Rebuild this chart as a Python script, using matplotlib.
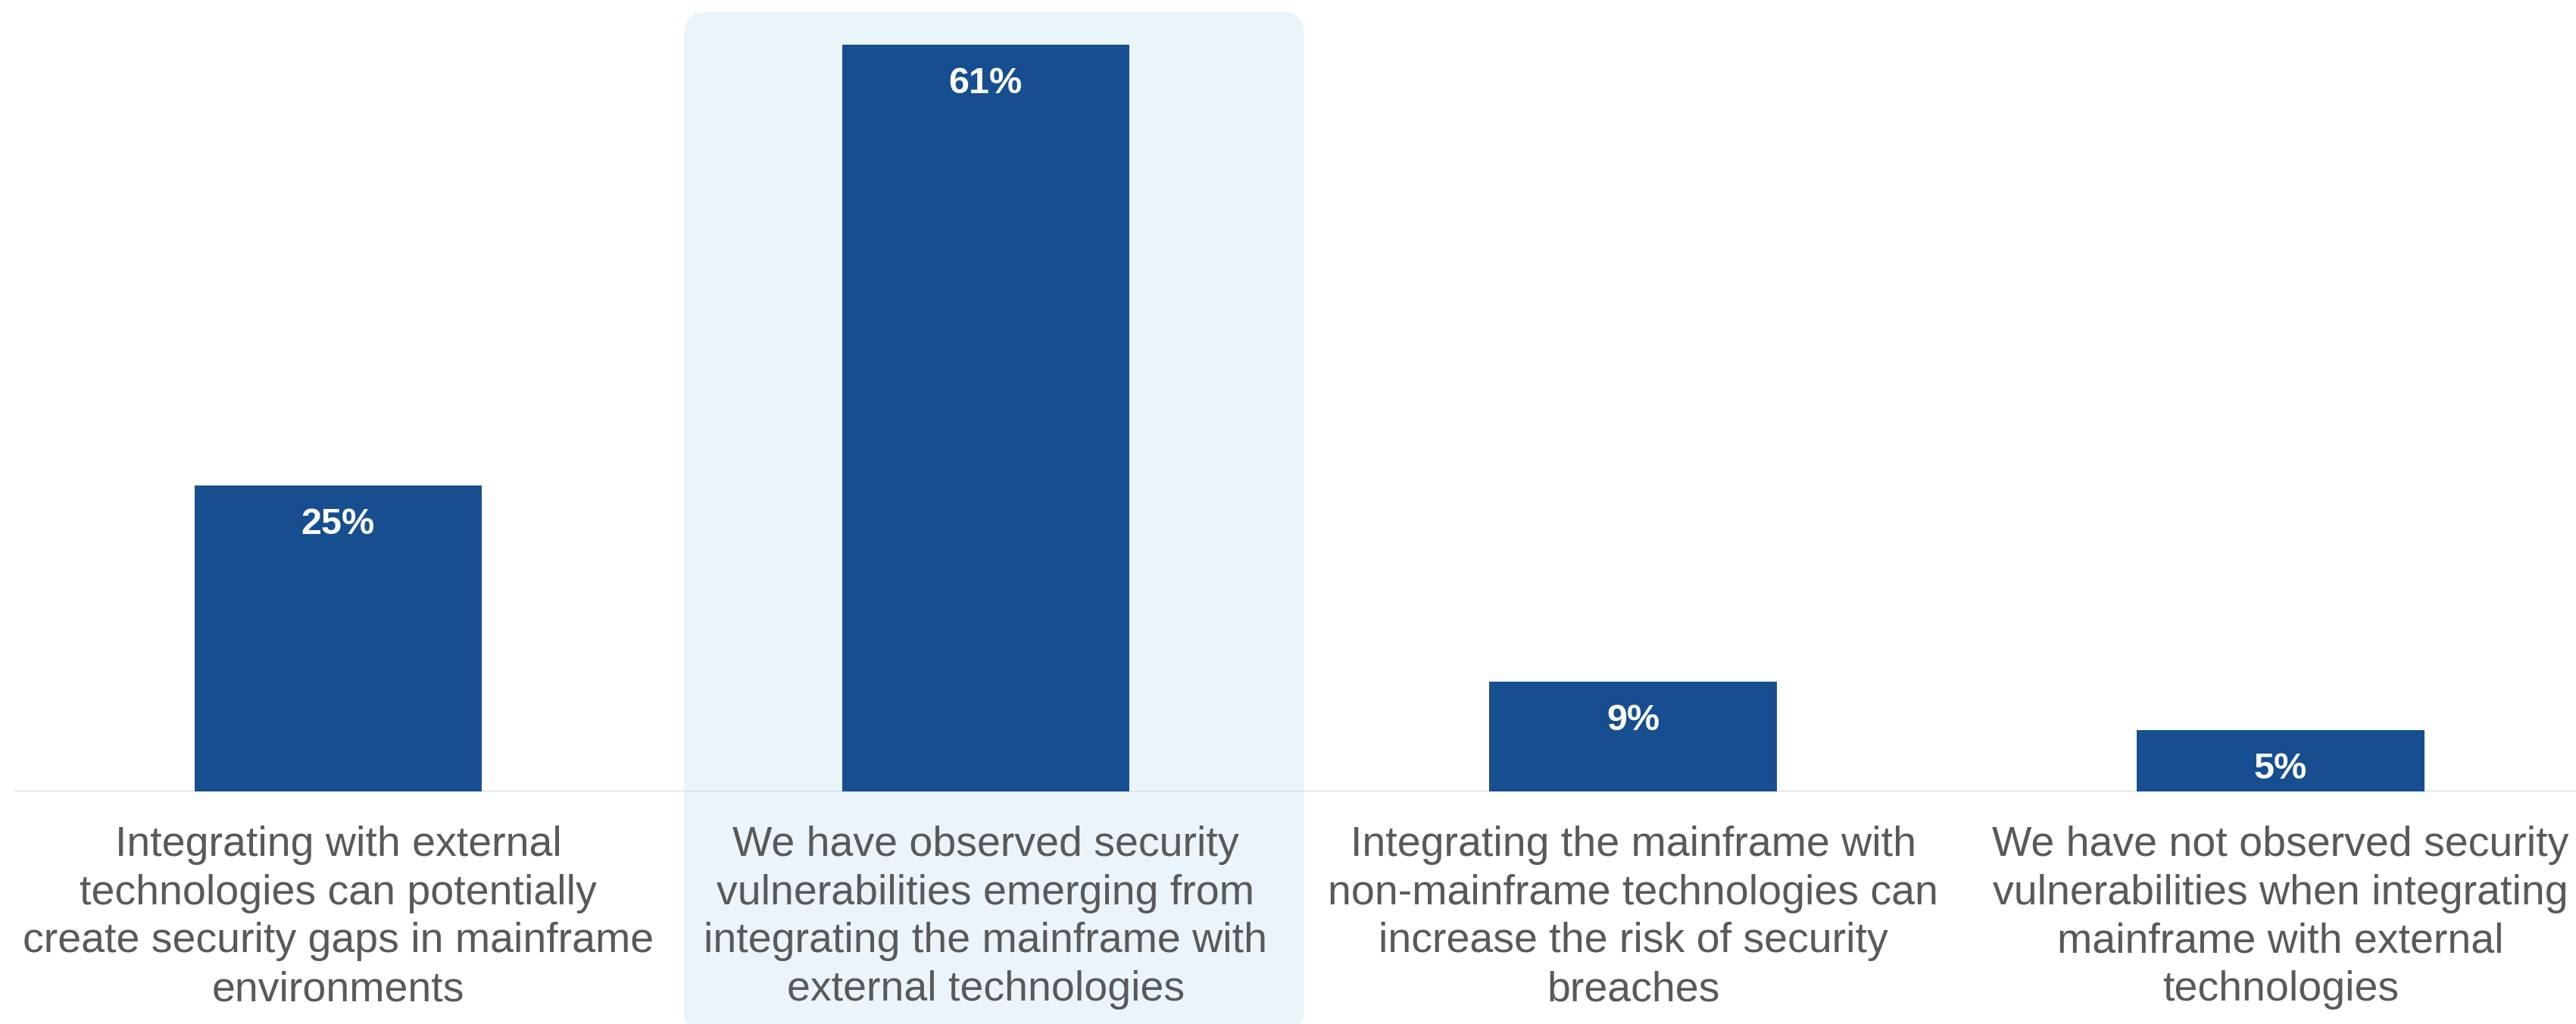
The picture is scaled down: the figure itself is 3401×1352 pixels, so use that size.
import matplotlib
matplotlib.use("Agg")
import matplotlib.pyplot as plt
from matplotlib.patches import FancyBboxPatch
from matplotlib.transforms import IdentityTransform

categories = [
    "Integrating with external\ntechnologies can potentially\ncreate security gaps in mainframe\nenvironments",
    "We have observed security\nvulnerabilities emerging from\nintegrating the mainframe with\nexternal technologies",
    "Integrating the mainframe with\nnon-mainframe technologies can\nincrease the risk of security\nbreaches",
    "We have not observed security\nvulnerabilities when integrating\nmainframe with external\ntechnologies",
]
values = [25, 61, 9, 5]
value_labels = ["25%", "61%", "9%", "5%"]
highlight_index = 1

BAR = "#164E90"
TEXT = "#595959"
BOX = "#EBF3FB"
AXIS = "#D9D9D9"

plt.rcParams['font.family'] = ['Liberation Sans', 'DejaVu Sans']

W, H = 3401, 1352
dpi = 100
fig = plt.figure(figsize=(W / dpi, H / dpi), dpi=dpi)
ax = fig.add_axes([19 / W, 1 - 1045 / H, 1 - 19 / W, 1045 / H])
ax.set_xlim(-0.5, 3.456)
ax.set_ylim(0, 64.66)
ax.axis("off")
ax.patch.set_alpha(0)

x = list(range(len(values)))
fig.canvas.draw()

# highlight box behind the highlighted category
x0 = ax.transData.transform((highlight_index - 0.466, 0))[0]
x1 = ax.transData.transform((highlight_index + 0.492, 0))[0]
ytop = H - 16
box = FancyBboxPatch((x0, -10), x1 - x0, ytop + 10, boxstyle="round,pad=0,rounding_size=30",
                     transform=IdentityTransform(), facecolor=BOX, edgecolor="none",
                     zorder=0, clip_on=False)
ax.add_patch(box)

ax.bar(x, values, width=0.444, color=BAR, zorder=3)
ax.axhline(0, color=AXIS, linewidth=2.2, zorder=2)

for xi, v, lab in zip(x, values, value_labels):
    ax.annotate(lab, xy=(xi, v), xytext=(0, -64 * 72 / dpi), textcoords="offset points",
                ha="center", va="baseline", color="white", fontsize=35, fontweight="bold", zorder=4)

# va='baseline' anchors the last line's baseline for multi-line text
for xi, c in zip(x, categories):
    ax.annotate(c, xy=(xi, 0), xytext=(0, -276 * 72 / dpi), textcoords="offset points",
                ha="center", va="baseline", color=TEXT, fontsize=40, linespacing=1.29,
                multialignment="center", annotation_clip=False, zorder=4)

fig.savefig("out.png", dpi=dpi)
